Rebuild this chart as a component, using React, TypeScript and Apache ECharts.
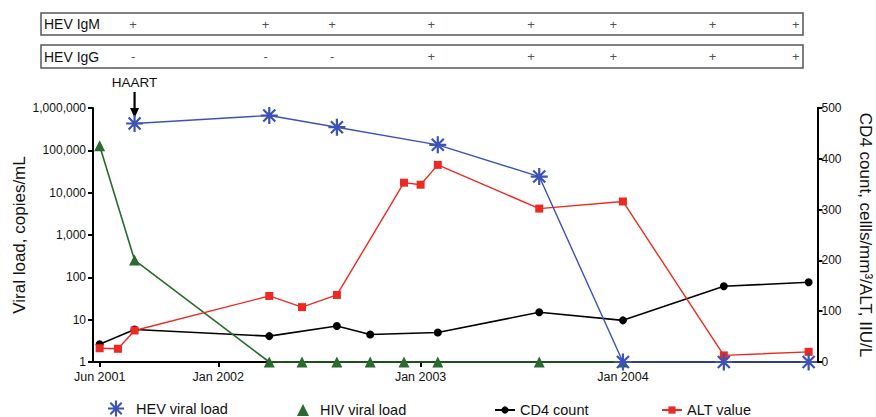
import React, { useEffect, useRef } from 'react';
import * as echarts from 'echarts';

const FONT = "'Liberation Sans', Arial, Helvetica, sans-serif";

// ---- Data ----
const hevDates = ['2001-08-03', '2002-04-03', '2002-08-03', '2003-02-01', '2003-08-03', '2004-01-01', '2004-07-01', '2004-12-01'];
const hevLoad = [430000, 665000, 352000, 135000, 24000, 1, 1, 1];
const hevIgM = ['+', '+', '+', '+', '+', '+', '+', '+'];
const hevIgG = ['-', '-', '-', '+', '+', '+', '+', '+'];

const hivDates = ['2001-06-01', '2001-08-03', '2002-04-03', '2002-06-01', '2002-08-03', '2002-10-02', '2002-12-02', '2003-02-01', '2003-08-03', '2004-01-01'];
const hivLoad = [128000, 255, 1, 1, 1, 1, 1, 1, 1, 1];

const cd4Dates = ['2001-06-01', '2001-08-03', '2002-04-03', '2002-08-03', '2002-10-02', '2003-02-01', '2003-08-03', '2004-01-01', '2004-07-01', '2004-12-01'];
const cd4Count = [35, 64, 51, 71, 54, 58, 98, 82, 149, 157];

const altDates = ['2001-06-01', '2001-07-04', '2001-08-03', '2002-04-03', '2002-06-01', '2002-08-03', '2002-12-02', '2003-01-01', '2003-02-01', '2003-08-03', '2004-01-01', '2004-07-01', '2004-12-01'];
const altValue = [27, 26, 62, 130, 108, 132, 353, 349, 388, 302, 316, 13, 20];

const xTickDates = ['2001-06-01', '2002-01-01', '2003-01-01', '2004-01-01'];
const xTickLabels = ['Jun 2001', 'Jan 2002', 'Jan 2003', 'Jan 2004'];
const leftTicks = [1, 10, 100, 1000, 10000, 100000, 1000000];
const haartDate = '2001-08-03';

const seriesNames = ['HEV viral load', 'HIV viral load', 'CD4 count', 'ALT value'];

function ts(s: string): number {
  const [y, m, d] = s.split('-').map(Number);
  return Date.UTC(y, m - 1, d);
}

const STAR =
  'path://M-1.3,-10L1.3,-10L1.3,10L-1.3,10Z' +
  'M-10,-1.3L10,-1.3L10,1.3L-10,1.3Z' +
  'M-7.99,-6.15L-6.15,-7.99L7.99,6.15L6.15,7.99Z' +
  'M-7.99,6.15L6.15,-7.99L7.99,-6.15L-6.15,7.99Z';
const TRI = 'path://M0,10L5,0L10,10Z';

const COLORS = { hev: '#3c52b6', hiv: '#2a6a2e', cd4: '#000000', alt: '#ec2a22' };

export default function App() {
  const ref = useRef<HTMLDivElement>(null);

  useEffect(() => {
    if (!ref.current) return;
    const chart = echarts.init(ref.current, undefined, { renderer: 'svg' });
    const tickTs = xTickDates.map(ts);

    const axisLine = { show: true, onZero: false, lineStyle: { color: '#000', width: 2 } };
    const axisTick = { show: true, length: 5, lineStyle: { color: '#000', width: 2 } };

    const legendBase = {
      orient: 'horizontal',
      padding: 0,
      textStyle: { fontSize: 14.5, color: '#111', fontFamily: FONT },
      selectedMode: false,
    };

    const boxLabel = {
      show: true,
      position: 'inside',
      formatter: (p: any) => p.value[2],
      fontSize: 13,
      color: '#222',
    };

    const option: any = {
      animation: false,
      textStyle: { fontFamily: FONT },
      grid: [
        { left: 93, right: 58.5, top: 108, bottom: 55 },
        { left: 41, top: 13, width: 762, height: 22, show: true, borderColor: '#555', borderWidth: 1.5, backgroundColor: '#fff' },
        { left: 41, top: 45, width: 762, height: 23, show: true, borderColor: '#555', borderWidth: 1.5, backgroundColor: '#fff' },
      ],
      xAxis: [
        {
          type: 'value',
          gridIndex: 0,
          min: ts('2001-05-20'),
          max: ts('2004-12-17'),
          axisLine,
          axisTick: { ...axisTick, customValues: tickTs },
          axisLabel: {
            customValues: tickTs,
            fontSize: 12.5,
            color: '#111',
            margin: 8,
            formatter: (v: number) => {
              let best = 0;
              tickTs.forEach((t, i) => {
                if (Math.abs(t - v) < Math.abs(tickTs[best] - v)) best = i;
              });
              return xTickLabels[best];
            },
          },
          splitLine: { show: false },
        },
        { type: 'value', gridIndex: 1, min: ts('2001-02-15'), max: ts('2004-12-14'), show: false },
        { type: 'value', gridIndex: 2, min: ts('2001-02-15'), max: ts('2004-12-14'), show: false },
      ],
      yAxis: [
        {
          type: 'log',
          logBase: 10,
          gridIndex: 0,
          position: 'left',
          min: leftTicks[0],
          max: leftTicks[leftTicks.length - 1],
          axisLine,
          axisTick,
          axisLabel: {
            fontSize: 12,
            color: '#111',
            margin: 7,
            formatter: (v: number) => Math.round(v).toLocaleString('en-US'),
          },
          splitLine: { show: false },
        },
        {
          type: 'value',
          gridIndex: 0,
          position: 'right',
          min: 0,
          max: 500,
          interval: 100,
          axisLine,
          axisTick,
          axisLabel: { fontSize: 12, color: '#111', margin: 4 },
          splitLine: { show: false },
        },
        { type: 'value', gridIndex: 1, min: -1, max: 1, show: false },
        { type: 'value', gridIndex: 2, min: -1, max: 1, show: false },
      ],
      legend: [
        { ...legendBase, data: [{ name: seriesNames[0], icon: STAR }], left: 108, top: 400.5, itemWidth: 30, itemHeight: 16 },
        { ...legendBase, data: [{ name: seriesNames[1], icon: TRI }], left: 297, top: 402.5, itemWidth: 24, itemHeight: 12 },
        { ...legendBase, data: [seriesNames[2]], left: 494, top: 402.5, itemWidth: 20, itemHeight: 9 },
        { ...legendBase, data: [seriesNames[3]], left: 661, top: 402.5, itemWidth: 20, itemHeight: 9 },
      ],
      series: [
        {
          name: seriesNames[2],
          type: 'line',
          xAxisIndex: 0,
          yAxisIndex: 1,
          data: cd4Dates.map((d, i) => [ts(d), cd4Count[i]]),
          symbol: 'circle',
          symbolSize: 8,
          color: COLORS.cd4,
          lineStyle: { width: 1.6, color: COLORS.cd4 },
          itemStyle: { color: COLORS.cd4 },
          clip: false,
        },
        {
          name: seriesNames[1],
          type: 'line',
          xAxisIndex: 0,
          yAxisIndex: 0,
          data: hivDates.map((d, i) => [ts(d), hivLoad[i]]),
          symbol: 'triangle',
          symbolSize: 11,
          color: COLORS.hiv,
          lineStyle: { width: 1.6, color: COLORS.hiv },
          itemStyle: { color: COLORS.hiv },
          clip: false,
        },
        {
          name: seriesNames[3],
          type: 'line',
          xAxisIndex: 0,
          yAxisIndex: 1,
          data: altDates.map((d, i) => [ts(d), altValue[i]]),
          symbol: 'rect',
          symbolSize: 8,
          color: COLORS.alt,
          lineStyle: { width: 1.4, color: COLORS.alt },
          itemStyle: { color: COLORS.alt },
          clip: false,
        },
        {
          name: seriesNames[0],
          type: 'line',
          xAxisIndex: 0,
          yAxisIndex: 0,
          data: hevDates.map((d, i) => [ts(d), hevLoad[i]]),
          symbol: STAR,
          symbolSize: 17,
          color: COLORS.hev,
          lineStyle: { width: 1.4, color: COLORS.hev },
          itemStyle: { color: COLORS.hev },
          clip: false,
        },
        {
          name: 'HEV IgM',
          type: 'scatter',
          xAxisIndex: 1,
          yAxisIndex: 2,
          data: hevDates.map((d, i) => [ts(d), 0, hevIgM[i]]),
          symbolSize: 1,
          itemStyle: { color: 'rgba(0,0,0,0)' },
          label: boxLabel,
          silent: true,
        },
        {
          name: 'HEV IgG',
          type: 'scatter',
          xAxisIndex: 2,
          yAxisIndex: 3,
          data: hevDates.map((d, i) => [ts(d), 0, hevIgG[i]]),
          symbolSize: 1,
          itemStyle: { color: 'rgba(0,0,0,0)' },
          label: boxLabel,
          silent: true,
        },
      ],
    };

    chart.setOption(option);

    const hx = chart.convertToPixel({ xAxisIndex: 0 } as any, ts(haartDate)) as unknown as number;

    chart.setOption({
      graphic: [
        { type: 'text', x: 44, y: 24, style: { text: 'HEV IgM', fontSize: 14, fontFamily: FONT, fill: '#111', align: 'left', verticalAlign: 'middle' } },
        { type: 'text', x: 44, y: 57, style: { text: 'HEV IgG', fontSize: 14, fontFamily: FONT, fill: '#111', align: 'left', verticalAlign: 'middle' } },
        { type: 'text', x: hx, y: 82, style: { text: 'HAART', fontSize: 13.5, fontFamily: FONT, fill: '#111', align: 'center', verticalAlign: 'middle' } },
        { type: 'line', shape: { x1: hx, y1: 92, x2: hx, y2: 110 }, style: { stroke: '#000', lineWidth: 2.2 } },
        { type: 'polygon', shape: { points: [[hx - 4.5, 108], [hx + 4.5, 108], [hx, 118]] }, style: { fill: '#000' } },
        {
          type: 'text', x: 19, y: 235, rotation: Math.PI / 2,
          style: { text: 'Viral load, copies/mL', fontSize: 17, fontFamily: FONT, fill: '#111', align: 'center', verticalAlign: 'middle' },
        },
        {
          type: 'text', x: 865, y: 235, rotation: -Math.PI / 2,
          style: { text: 'CD4 count, cellls/mm³/ALT, IIU/L', fontSize: 17, fontFamily: FONT, fill: '#111', align: 'center', verticalAlign: 'middle' },
        },
      ],
    });

    return () => chart.dispose();
  }, []);

  return <div ref={ref} style={{ position: 'fixed', left: 0, top: 0, width: 876, height: 417, background: '#fff' }} />;
}
